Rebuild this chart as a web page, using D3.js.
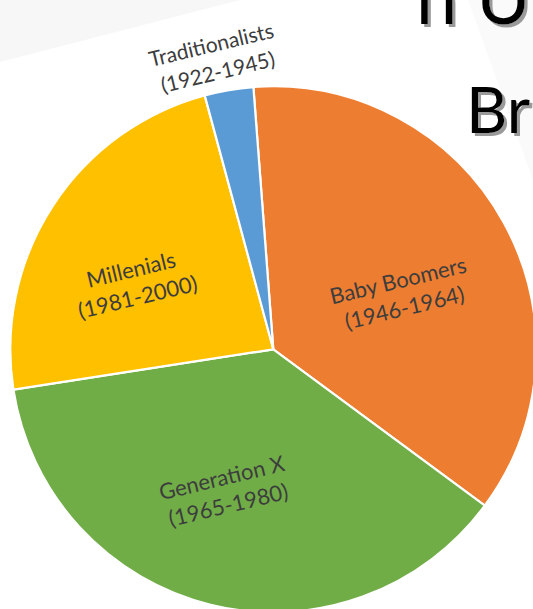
<!DOCTYPE html>
<html>
<head>
<meta charset="utf-8">
<script src="https://cdn.jsdelivr.net/npm/d3@7"></script>
<style>
  html, body { margin: 0; padding: 0; background: #ffffff; overflow: hidden; }
  svg { display: block; }
</style>
</head>
<body>
<svg id="chart" width="533" height="609"></svg>
<script>
// ---- data ----
const categories = ["Baby Boomers", "Generation X", "Millenials", "Traditionalists"];
const years      = ["(1946-1964)", "(1965-1980)", "(1981-2000)", "(1922-1945)"];
const shares     = [36.4, 37.5, 23.3, 3.0];
const titleLines = ["n U", "Br"];

// ---- layout / style ----
const W = 533, H = 609;
const cx = 273.3, cy = 349.3, R = 263;
const startDeg = -4.34;
const colors = ["#ED7D31", "#70AD47", "#FFC000", "#5B9BD5"];
// label placement: shift of angle (deg) from slice middle and radius factor
const labelLayout = [
  { dAngle: 5.6,  rf: 0.53 },
  { dAngle: 5.0,  rf: 0.57 },
  { dAngle: -7.6, rf: 0.585 },
  { dAngle: -1.7, rf: 1.13 }
];
const labelRotate = -13.5;
const labelFont = "Lato, 'Open Sans', sans-serif";

const svg = d3.select("#chart");

// background: rotated slide leaves very light gray corners
const bg = svg.append("g");
bg.append("rect").attr("width", W).attr("height", H).attr("fill", "#ffffff");
bg.append("polygon").attr("points", "0,0 240,0 0,62").attr("fill", "#f7f7f7");
bg.append("polygon").attr("points", "468,0 533,0 533,180").attr("fill", "#fafafa");

// shadow filter for title
const defs = svg.append("defs");
const f = defs.append("filter").attr("id", "shadow")
  .attr("x", "-20%").attr("y", "-20%").attr("width", "140%").attr("height", "140%");
f.append("feDropShadow").attr("dx", 3).attr("dy", 3).attr("stdDeviation", 0.6)
  .attr("flood-color", "#9a9a9a").attr("flood-opacity", 1);

// pie
const toRad = d => d * Math.PI / 180;
const pie = d3.pie().sort(null).value(d => d)
  .startAngle(toRad(startDeg)).endAngle(toRad(startDeg + 360));
const arcs = pie(shares);
const arc = d3.arc().innerRadius(0).outerRadius(R);

const g = svg.append("g").attr("transform", `translate(${cx},${cy})`);
g.selectAll("path.slice").data(arcs).enter().append("path")
  .attr("class", "slice")
  .attr("d", arc)
  .attr("fill", (d, i) => colors[i])
  .attr("stroke", "#ffffff")
  .attr("stroke-width", 2.2)
  .attr("stroke-linejoin", "round");

// labels
const lbl = g.selectAll("g.lbl").data(arcs).enter().append("g")
  .attr("class", "lbl")
  .attr("transform", (d, i) => {
    const a = (d.startAngle + d.endAngle) / 2 + toRad(labelLayout[i].dAngle);
    const r = R * labelLayout[i].rf;
    const x = r * Math.sin(a), y = -r * Math.cos(a);
    return `translate(${x},${y}) rotate(${labelRotate})`;
  });
const t = lbl.append("text")
  .attr("text-anchor", "middle")
  .attr("font-family", labelFont)
  .attr("font-size", (d, i) => i === 3 ? 21 : 22)
  .attr("fill", "#3d3d3d");
t.append("tspan").attr("x", 0).attr("y", -6).text((d, i) => categories[i]);
t.append("tspan").attr("x", 0).attr("y", 22).text((d, i) => years[i]);

// title fragments (partially off-canvas, as in the reference)
const title = svg.append("g").attr("filter", "url(#shadow)")
  .attr("font-family", "Lato, 'Open Sans', sans-serif")
  .attr("fill", "#000000");
title.append("text").attr("x", 416).attr("y", 24).attr("font-size", 74).text(titleLines[0]);
title.append("text").attr("x", 466).attr("y", 133).attr("font-size", 64).text(titleLines[1]);
</script>
</body>
</html>
